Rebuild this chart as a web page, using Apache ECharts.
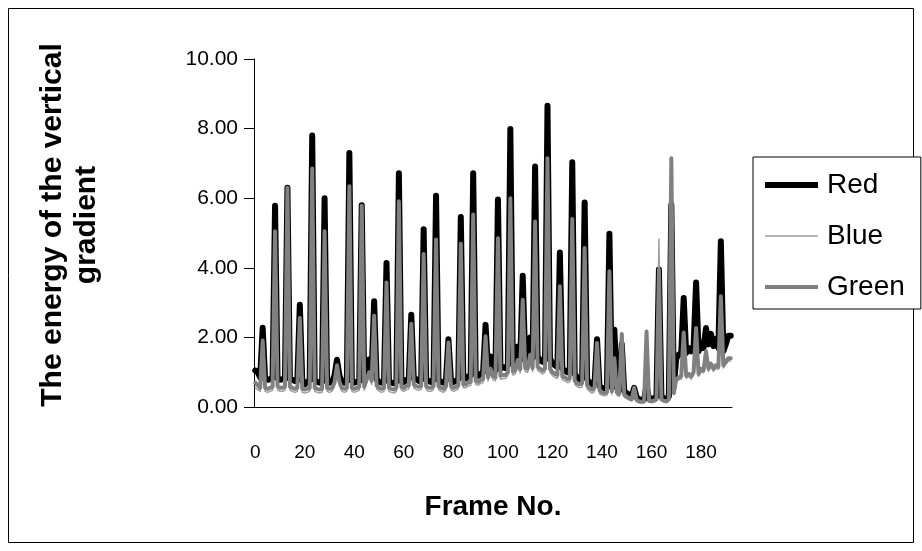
<!DOCTYPE html>
<html>
<head>
<meta charset="utf-8">
<script src="https://cdn.jsdelivr.net/npm/echarts@6/dist/echarts.min.js"></script>
<style>
  html, body { margin: 0; padding: 0; background: #fff; }
  #main { width: 922px; height: 551px; }
</style>
</head>
<body>
<div id="main"></div>
<script>
// frame index 0..192
var frames = [];
for (var i = 0; i <= 192; i++) frames.push(String(i));

var yTicks = [0, 2, 4, 6, 8, 10];

// one value per frame
var redVals = [
  1.05, 1.00, 0.85, 2.28, 0.80, 0.78, 0.80, 0.85, 5.78, 0.82,
  0.78, 0.80, 0.82, 6.30, 0.80, 0.78, 0.75, 0.78, 2.94, 0.75,
  0.65, 0.72, 0.78, 7.80, 0.78, 0.72, 0.70, 0.72, 6.00, 0.75,
  0.70, 0.72, 0.90, 1.36, 0.90, 0.72, 0.70, 0.75, 7.30, 0.75,
  0.70, 0.72, 0.75, 5.80, 0.75, 1.10, 1.36, 0.95, 3.04, 0.80,
  0.72, 0.70, 0.75, 4.14, 0.72, 0.70, 0.68, 0.72, 6.72, 0.75,
  0.72, 0.78, 0.80, 2.65, 0.85, 0.80, 0.75, 0.78, 5.11, 0.80,
  0.75, 0.72, 0.78, 6.07, 0.78, 0.72, 0.70, 0.78, 1.95, 0.80,
  0.72, 0.75, 0.80, 5.46, 0.85, 0.82, 0.88, 0.90, 6.72, 0.95,
  0.90, 0.95, 1.00, 2.36, 1.05, 1.45, 1.10, 1.05, 5.96, 1.10,
  1.15, 1.12, 1.20, 7.99, 1.25, 1.30, 1.74, 1.35, 3.77, 1.40,
  1.35, 2.00, 1.40, 6.91, 1.45, 1.35, 1.30, 1.35, 8.66, 1.40,
  1.25, 1.20, 1.15, 4.44, 1.10, 1.05, 1.00, 1.05, 7.03, 0.95,
  0.85, 0.80, 0.85, 5.88, 0.80, 0.70, 0.65, 0.70, 1.95, 0.60,
  0.55, 0.52, 0.55, 4.98, 0.60, 2.22, 0.55, 0.50, 1.80, 0.45,
  0.40, 0.35, 0.30, 0.55, 0.28, 0.22, 0.20, 0.22, 0.60, 0.25,
  0.22, 0.25, 0.30, 3.95, 0.30, 0.25, 0.22, 0.30, 5.81, 0.60,
  1.40, 1.50, 1.55, 3.13, 1.55, 1.70, 1.60, 1.75, 3.58, 1.60,
  1.85, 1.70, 2.27, 1.80, 2.10, 1.75, 1.95, 1.70, 4.76, 1.60,
  1.80, 2.05, 2.05
];

var blueVals = [
  0.55, 0.50, 0.45, 1.80, 0.45, 0.42, 0.45, 0.48, 4.92, 0.50,
  0.45, 0.45, 0.48, 6.20, 0.48, 0.45, 0.42, 0.45, 2.45, 0.42,
  0.40, 0.42, 0.45, 6.72, 0.45, 0.42, 0.40, 0.42, 4.92, 0.45,
  0.42, 0.45, 0.60, 1.10, 0.62, 0.45, 0.42, 0.45, 6.20, 0.45,
  0.42, 0.45, 0.48, 5.68, 0.48, 0.70, 0.90, 0.65, 2.50, 0.52,
  0.45, 0.42, 0.45, 3.45, 0.45, 0.42, 0.40, 0.45, 5.80, 0.48,
  0.45, 0.50, 0.52, 2.30, 0.55, 0.50, 0.48, 0.50, 4.28, 0.50,
  0.45, 0.45, 0.50, 4.70, 0.50, 0.45, 0.42, 0.48, 1.75, 0.50,
  0.45, 0.48, 0.52, 4.58, 0.55, 0.55, 0.60, 0.62, 5.42, 0.65,
  0.62, 0.68, 0.70, 1.95, 0.75, 1.00, 0.78, 0.75, 4.75, 0.80,
  0.82, 0.82, 0.90, 5.90, 0.92, 0.95, 1.25, 0.98, 2.98, 1.02,
  1.00, 1.40, 1.02, 5.22, 1.05, 1.00, 0.95, 1.00, 7.05, 1.00,
  0.90, 0.85, 0.82, 3.37, 0.78, 0.75, 0.70, 0.72, 5.30, 0.65,
  0.58, 0.55, 0.58, 4.47, 0.52, 0.45, 0.40, 0.45, 1.75, 0.38,
  0.34, 0.32, 0.34, 3.80, 0.36, 1.30, 0.34, 0.30, 2.12, 0.28,
  0.24, 0.20, 0.18, 0.50, 0.16, 0.13, 0.12, 0.13, 2.20, 0.14,
  0.13, 0.15, 0.18, 4.83, 0.18, 0.15, 0.13, 0.18, 7.05, 0.35,
  0.72, 0.78, 0.80, 2.05, 0.82, 0.88, 0.80, 0.92, 2.18, 0.88,
  1.02, 0.98, 1.50, 1.02, 1.18, 1.02, 1.12, 1.08, 3.08, 1.12,
  1.22, 1.32, 1.32
];

var greenVals = [
  0.70, 0.62, 0.55, 1.91, 0.55, 0.52, 0.55, 0.58, 5.05, 0.60,
  0.55, 0.55, 0.58, 6.30, 0.58, 0.55, 0.52, 0.55, 2.56, 0.52,
  0.50, 0.52, 0.55, 6.85, 0.55, 0.52, 0.50, 0.52, 5.05, 0.55,
  0.52, 0.55, 0.70, 1.20, 0.72, 0.55, 0.52, 0.55, 6.34, 0.55,
  0.52, 0.55, 0.58, 5.78, 0.58, 0.80, 1.00, 0.75, 2.62, 0.62,
  0.55, 0.52, 0.55, 3.58, 0.55, 0.52, 0.50, 0.55, 5.91, 0.58,
  0.55, 0.60, 0.62, 2.39, 0.65, 0.60, 0.58, 0.60, 4.40, 0.60,
  0.55, 0.55, 0.60, 4.81, 0.60, 0.55, 0.52, 0.58, 1.85, 0.60,
  0.55, 0.58, 0.62, 4.69, 0.65, 0.65, 0.70, 0.72, 5.53, 0.75,
  0.72, 0.78, 0.80, 2.03, 0.85, 1.10, 0.88, 0.85, 4.85, 0.90,
  0.92, 0.92, 1.00, 6.00, 1.02, 1.05, 1.35, 1.08, 3.08, 1.12,
  1.10, 1.50, 1.12, 5.33, 1.15, 1.10, 1.05, 1.10, 7.15, 1.10,
  1.00, 0.95, 0.92, 3.47, 0.88, 0.85, 0.80, 0.82, 5.40, 0.75,
  0.68, 0.65, 0.68, 4.57, 0.62, 0.55, 0.50, 0.55, 1.84, 0.48,
  0.42, 0.40, 0.42, 3.90, 0.45, 1.40, 0.42, 0.38, 2.10, 0.35,
  0.30, 0.25, 0.22, 0.55, 0.20, 0.16, 0.15, 0.16, 2.17, 0.18,
  0.16, 0.18, 0.22, 3.95, 0.22, 0.18, 0.16, 0.22, 7.15, 0.40,
  0.80, 0.85, 0.88, 2.14, 0.90, 0.95, 0.88, 1.00, 2.27, 0.95,
  1.10, 1.05, 1.60, 1.10, 1.25, 1.10, 1.20, 1.15, 3.18, 1.20,
  1.30, 1.40, 1.40
];

var font = '"Liberation Sans", Arial, sans-serif';
var myChart = echarts.init(document.getElementById('main'));

var option = {
  animation: false,
  backgroundColor: '#fff',
  graphic: [
    {
      type: 'rect',
      z: -1,
      shape: { x: 8.5, y: 8.5, width: 905, height: 534 },
      style: { fill: 'none', stroke: '#000', lineWidth: 1 }
    }
  ],
  grid: {
    left: 254,
    top: 59,
    right: 190,
    bottom: 144,
    containLabel: false,
    outerBoundsMode: 'none'
  },
  legend: {
    orient: 'vertical',
    left: 753,
    top: 157,
    // plain line icons, thickness like each series
    data: [
      { name: 'Red', icon: 'path://M0,0H53V6H0Z' },
      { name: 'Blue', icon: 'path://M0,0H53V1.5H0Z' },
      { name: 'Green', icon: 'path://M0,0H53V4H0Z' }
    ],
    itemWidth: 53,
    itemHeight: 14,
    itemGap: 23,
    padding: [14, 16, 8, 12],
    borderColor: '#000',
    borderWidth: 1,
    backgroundColor: '#fff',
    itemStyle: { borderWidth: 0 },
    textStyle: {
      fontFamily: font,
      fontSize: 28,
      color: '#000',
      padding: [0, 0, 0, 4]
    }
  },
  xAxis: {
    type: 'category',
    data: frames,
    boundaryGap: true,
    name: 'Frame No.',
    nameLocation: 'middle',
    nameGap: 86,
    nameTextStyle: { fontFamily: font, fontSize: 28, fontWeight: 'bold', color: '#000' },
    axisLine: { lineStyle: { color: '#000', width: 1 } },
    axisTick: { interval: 19, length: 8, lineStyle: { color: '#000' } },
    axisLabel: {
      interval: 19,
      margin: 36,
      fontFamily: font,
      fontSize: 19,
      color: '#000'
    },
    splitLine: { show: false }
  },
  yAxis: {
    type: 'value',
    min: yTicks[0],
    max: yTicks[yTicks.length - 1],
    interval: 2,
    name: 'The energy of the vertical\ngradient',
    nameLocation: 'middle',
    nameRotate: 90,
    nameGap: 150,
    nameTextStyle: {
      fontFamily: font, fontSize: 30, fontWeight: 'bold', color: '#000',
      lineHeight: 34, padding: [0, 0, 0, 16]
    },
    axisLine: { show: true, lineStyle: { color: '#000', width: 1 } },
    axisTick: { show: true, length: 10, lineStyle: { color: '#000' } },
    axisLabel: {
      margin: 16,
      fontFamily: font,
      fontSize: 21,
      color: '#000',
      formatter: function (v) { return v.toFixed(2); }
    },
    splitLine: { show: false }
  },
  series: [
    {
      name: 'Red',
      type: 'line',
      data: redVals,
      symbol: 'none',
      color: '#000000',
      lineStyle: { color: '#000000', width: 6, cap: 'round', join: 'round' }
    },
    {
      name: 'Blue',
      type: 'line',
      data: blueVals,
      symbol: 'none',
      color: '#a0a0a0',
      lineStyle: { color: '#a0a0a0', width: 1.5, cap: 'round', join: 'round' }
    },
    {
      name: 'Green',
      type: 'line',
      data: greenVals,
      symbol: 'none',
      color: '#808080',
      lineStyle: { color: '#808080', width: 4, cap: 'round', join: 'round' }
    }
  ]
};

myChart.setOption(option);
</script>
</body>
</html>
